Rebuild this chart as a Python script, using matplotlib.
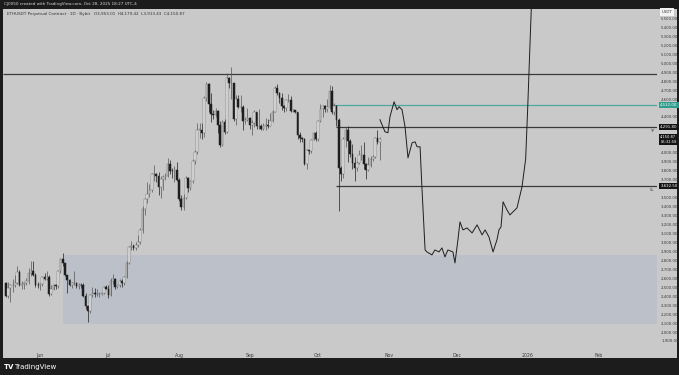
import numpy as np
import pandas as pd
import matplotlib
matplotlib.use("Agg")
import matplotlib.pyplot as plt
import matplotlib.dates as mdates
from matplotlib.patches import Rectangle

# ---- daily ETHUSDT candles, 17 May -> 28 Oct 2025 ----
first_open = 2545
closes = [
    # May 17-31
    2400, 2495, 2525, 2530, 2550, 2665, 2530, 2535, 2550, 2565, 2660, 2680, 2635, 2530, 2525,
    # Jun
    2540, 2610, 2595, 2610, 2420, 2480, 2525, 2510, 2680, 2815, 2770, 2640, 2580, 2530, 2545,
    2550, 2510, 2525, 2520, 2405, 2295, 2230, 2410, 2440, 2420, 2420, 2430, 2435, 2500, 2485,
    # Jul
    2410, 2570, 2590, 2505, 2520, 2570, 2545, 2615, 2770, 2950, 2960, 2940, 2970, 3010, 3140,
    3370, 3480, 3545, 3590, 3760, 3760, 3740, 3620, 3710, 3725, 3745, 3870, 3800, 3795, 3810, 3700,
    # Aug
    3480, 3390, 3500, 3720, 3610, 3680, 3910, 4010, 4260, 4260, 4220, 4610, 4770, 4550, 4430,
    4420, 4470, 4310, 4090, 4340, 4230, 4830, 4780, 4780, 4380, 4600, 4510, 4510, 4360, 4370, 4390,
    # Sep
    4310, 4330, 4450, 4300, 4300, 4270, 4300, 4310, 4300, 4350, 4460, 4720, 4670, 4610, 4520,
    4500, 4590, 4590, 4470, 4480, 4450, 4200, 4170, 4150, 3880, 4030, 4020, 4140, 4220, 4150,
    # Oct 1-28
    4350, 4490, 4520, 4490, 4510, 4690, 4460, 4520, 4370, 3830, 3760, 4150, 4250, 4130,
    3990, 3890, 3830, 3890, 3980, 3980, 3880, 3810, 3860, 3930, 3950, 4160, 4120, 4150,
]
highs = [
    2560, 2560, 2540, 2590, 2640, 2735, 2690, 2570, 2560, 2600, 2720, 2790, 2790, 2660, 2555,
    2550, 2620, 2660, 2680, 2640, 2520, 2540, 2540, 2690, 2830, 2880, 2770, 2640, 2590, 2560,
    2680, 2560, 2545, 2550, 2550, 2440, 2295, 2430, 2500, 2490, 2480, 2450, 2440, 2515, 2520,
    2530, 2600, 2650, 2600, 2530, 2590, 2590, 2630, 2790, 2960, 3020, 2980, 3000, 3080, 3160,
    3410, 3500, 3670, 3650, 3780, 3860, 3780, 3790, 3740, 3750, 3780, 3940, 3920, 3830, 3850, 3900,
    3720, 3530, 3540, 3740, 3730, 3700, 3930, 4030, 4330, 4330, 4330, 4630, 4790, 4780, 4670,
    4480, 4500, 4480, 4360, 4370, 4380, 4890, 4850, 4956, 4780, 4640, 4650, 4650, 4530, 4400, 4500,
    4400, 4370, 4480, 4460, 4490, 4320, 4330, 4390, 4380, 4440, 4480, 4750, 4770, 4680, 4670,
    4530, 4600, 4660, 4630, 4490, 4480, 4450, 4230, 4180, 4170, 4040, 4030, 4150, 4230, 4240,
    4370, 4540, 4530, 4530, 4600, 4755, 4750, 4560, 4530, 4390, 3850, 4180, 4290, 4300,
    4150, 4100, 3950, 3910, 4030, 4090, 4120, 3890, 3950, 3970, 3980, 4180, 4250, 4180,
]
lows = [
    2390, 2380, 2330, 2450, 2500, 2535, 2510, 2480, 2475, 2520, 2540, 2620, 2620, 2500, 2490,
    2470, 2515, 2580, 2580, 2400, 2410, 2470, 2480, 2490, 2660, 2740, 2620, 2440, 2510, 2490,
    2520, 2490, 2485, 2490, 2390, 2260, 2110, 2210, 2390, 2395, 2400, 2390, 2410, 2425, 2475,
    2380, 2400, 2540, 2480, 2490, 2500, 2500, 2530, 2600, 2760, 2910, 2910, 2920, 2950, 2980,
    3100, 3310, 3440, 3510, 3560, 3680, 3670, 3530, 3500, 3580, 3700, 3730, 3760, 3720, 3670, 3680,
    3460, 3360, 3360, 3480, 3560, 3580, 3660, 3870, 3990, 4160, 4150, 4180, 4580, 4460, 4340,
    4380, 4400, 4220, 4070, 4080, 4210, 4220, 4720, 4600, 4350, 4310, 4500, 4450, 4260, 4320, 4350,
    4270, 4200, 4290, 4270, 4270, 4250, 4260, 4260, 4280, 4300, 4340, 4450, 4650, 4560, 4480,
    4450, 4470, 4570, 4460, 4460, 4440, 4150, 4120, 4120, 3860, 3820, 3990, 4000, 4140, 4130,
    4130, 4340, 4400, 4450, 4460, 4490, 4430, 4420, 4300, 3350, 3680, 3720, 4060, 3900,
    3950, 3820, 3680, 3800, 3870, 3920, 3820, 3710, 3800, 3840, 3910, 3940, 4100, 3920,
]
dates = pd.date_range("2025-05-17", periods=len(closes), freq="D")
opens = [first_open] + closes[:-1]

# ---- hand drawn projection (days after 1 Jun 2025, price) ----
proj_days = [149.1, 151.3, 152.6, 153.5, 155.3, 156.6, 157.5, 158.8, 160.1, 161.4, 163.2, 164.5,
             165.4, 166.7, 167.5, 168.9, 169.7, 171.9, 173.2, 175.0, 176.3, 177.6, 178.9, 181.1,
             182.0, 183.3, 184.2, 185.5, 187.3, 189.5, 191.7, 193.9, 195.2, 196.9, 198.7, 200.4,
             201.3, 202.2, 203.1, 204.8, 206.1, 209.2, 211.4, 213.0, 213.9, 214.6, 215.6]
proj_price = [4370, 4235, 4224, 4403, 4570, 4481, 4514, 4481, 4291, 3944, 4112, 4123,
              4067, 4067, 3620, 2916, 2894, 2861, 2916, 2894, 2939, 2838, 2916, 2894,
              2771, 3028, 3229, 3140, 3162, 3106, 3196, 3084, 3140, 3062, 2894, 3028,
              3140, 3173, 3453, 3363, 3307, 3386, 3620, 3930, 4500, 5000, 5700]

# ---- levels ----
ath_level = 4883
green_level = 4532
upper_level = 4291.8
lower_level = 3632.5
last_price = 4150.87
box_start, box_low, box_high = "2025-06-11", 2095, 2860
level_start = "2025-10-09"

month_ticks = pd.date_range("2025-06-01", "2026-02-01", freq="MS")
month_labels = ["Jun", "Jul", "Aug", "Sep", "Oct", "Nov", "Dec", "2026", "Feb"]
price_ticks = list(range(1900, 5600, 100))

W, H = 679, 375
bg = "#c9c9c9"
dark = "#1c1c1c"
fig = plt.figure(figsize=(W / 100, H / 100), dpi=100)
fig.patch.set_facecolor(dark)
fig.add_artist(Rectangle((3 / W, 1 - 358 / H), 674 / W, 349 / H,
                         transform=fig.transFigure, fc=bg, ec="none", zorder=0))

ax = fig.add_axes([3 / W, 1 - 347 / H, 654 / W, 338 / H])
ax.set_facecolor(bg)
for s in ax.spines.values():
    s.set_visible(False)

jun1 = mdates.date2num(pd.Timestamp("2025-06-01"))
ax.set_xlim(jun1 - 16.2, jun1 + 270.6)
ax.set_ylim(1833, 5605)

x = mdates.date2num(dates)
xr = ax.get_xlim()[1]

# demand box
bx = mdates.date2num(pd.Timestamp(box_start))
ax.add_patch(Rectangle((bx, box_low), xr - bx, box_high - box_low,
                       fc="#bbc0c9", ec="none", zorder=1))

# horizontal levels
lx = mdates.date2num(pd.Timestamp(level_start))
ax.hlines(ath_level, ax.get_xlim()[0], xr, color="#3a3a3a", lw=0.9, zorder=2)
ax.hlines(green_level, lx - 3, xr, color="#4aa89c", lw=0.9, zorder=2)
ax.hlines([upper_level, lower_level], lx, xr, color="#3a3a3a", lw=0.9, zorder=2)

# candles
for xi, o, h, l, c in zip(x, opens, highs, lows, closes):
    up = c >= o
    ax.vlines(xi, l, h, color="#555555" if up else "#1e1e1e", lw=0.5, zorder=3)
    lo, hi = min(o, c), max(o, c)
    ax.add_patch(Rectangle((xi - 0.37, lo), 0.74, max(hi - lo, 4),
                           fc="#f0f0f0" if up else "#1e1e1e",
                           ec="#6a6a6a" if up else "#1e1e1e", lw=0.35, zorder=4))

# projection path
ax.plot(jun1 + np.array(proj_days), proj_price, color="#1e1e1e", lw=0.7, zorder=5)

# price scale: skip the round labels hidden behind the tags
tag_prices = [green_level, upper_level, last_price, lower_level]
shown = [p for p in price_ticks if min(abs(p - t) for t in tag_prices) > 55]
ax.yaxis.tick_right()
ax.set_yticks(shown)
ax.set_yticklabels([f"{p:,.2f}" for p in shown])
ax.tick_params(axis="y", length=0, pad=3, labelsize=2.8, labelcolor="#3a3a3a")
ax.set_xticks(mdates.date2num(month_ticks))
ax.set_xticklabels(month_labels)
ax.tick_params(axis="x", length=0, pad=4, labelsize=3.3, labelcolor="#3a3a3a")

# price tags on the scale
tx = 1.005
def tag(price, txt, fc, fs=2.8):
    ax.text(tx, price, txt, transform=ax.get_yaxis_transform(), va="center", ha="left",
            fontsize=fs, color="white", zorder=10, clip_on=False,
            bbox=dict(boxstyle="square,pad=0.25", fc=fc, ec="none"))

tag(green_level, f"{green_level:,.2f}", "#2e9d8c")
tag(upper_level, f"{upper_level:,.2f}", "#151515")
tag(last_price, f"{last_price:,.2f}\n05:32:58", "#151515", fs=2.6)
tag(lower_level, f"{lower_level:,.2f}", "#151515")
ax.text(0.996, upper_level - 25, "TP", transform=ax.get_yaxis_transform(), ha="right",
        va="top", fontsize=2.6, color="#333333")
ax.text(0.996, lower_level - 25, "SL", transform=ax.get_yaxis_transform(), ha="right",
        va="top", fontsize=2.6, color="#333333")

# USDT box top right
fig.text(667 / W, 1 - 12 / H, "USDT", fontsize=2.8, color="#333333", ha="center", va="center",
         bbox=dict(boxstyle="square,pad=0.4", fc="#f2f2f2", ec="none"))

# header texts
fig.text(4 / W, 1 - 4 / H, "CJ0050 created with TradingView.com, Oct 28, 2025 18:27 UTC-4",
         fontsize=3.0, color="#d8d8d8", va="center")
fig.text(7 / W, 1 - 14 / H,
         "ETHUSDT Perpetual Contract \u00b7 1D \u00b7 Bybit   O3,953.01  H4,179.42  L3,913.43  C4,150.87",
         fontsize=3.0, color="#333333", va="center")

# TradingView logo
fig.text(4 / W, 1 - 367 / H, "TV", fontsize=5, color="white", weight="bold", va="center")
fig.text(14 / W, 1 - 367 / H, "TradingView", fontsize=5, color="white", va="center")

fig.savefig("out.png", dpi=100, facecolor=dark)
